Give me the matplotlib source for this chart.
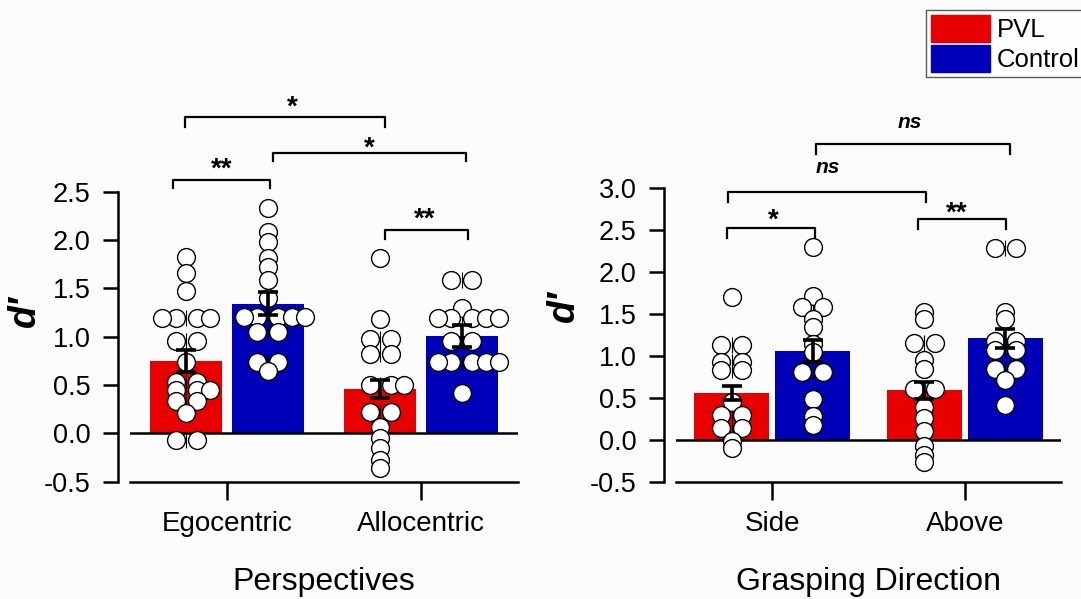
import numpy as np
import matplotlib
matplotlib.use("Agg")
import matplotlib.pyplot as plt
from matplotlib.patches import Patch

plt.rcParams['font.family'] = ['Liberation Sans', 'DejaVu Sans']

RED = '#e80000'
BLUE = '#0000b8'

# ---- Perspectives panel
persp_labels = ['Egocentric', 'Allocentric']
persp_pvl_mean = [0.75, 0.46]
persp_ctrl_mean = [1.34, 1.01]
persp_pvl_sem = [0.11, 0.09]
persp_ctrl_sem = [0.12, 0.115]

ego_pvl = [1.82, 1.66, 1.47, 1.19, 1.19, 1.19, 1.19, 0.96, 0.96, 0.74,
           0.53, 0.53, 0.45, 0.45, 0.45, 0.34, 0.34, 0.21, -0.07, -0.07]
ego_ctrl = [2.33, 2.08, 1.98, 1.81, 1.72, 1.59, 1.40, 1.20, 1.20, 1.20,
            1.20, 1.20, 1.05, 1.05, 0.74, 0.74, 0.65]
allo_pvl = [1.81, 1.18, 0.98, 0.98, 0.82, 0.82, 0.50, 0.50, 0.50, 0.22,
            0.22, 0.07, -0.05, -0.15, -0.28, -0.36]
allo_ctrl = [1.59, 1.59, 1.30, 1.19, 1.19, 1.19, 1.19, 1.19, 0.96, 0.96,
             0.74, 0.74, 0.74, 0.74, 0.74, 0.42]

# ---- Grasping direction panel
dir_labels = ['Side', 'Above']
dir_pvl_mean = [0.56, 0.59]
dir_ctrl_mean = [1.06, 1.21]
dir_pvl_sem = [0.085, 0.10]
dir_ctrl_sem = [0.13, 0.115]

side_pvl = [1.70, 1.13, 1.13, 0.93, 0.93, 0.83, 0.83, 0.45, 0.30, 0.30,
            0.14, 0.14, -0.02, -0.10]
side_ctrl = [2.30, 1.72, 1.58, 1.58, 1.44, 1.34, 1.14, 1.05, 0.81, 0.81,
             0.49, 0.28, 0.18]
above_pvl = [1.52, 1.44, 1.16, 1.16, 0.95, 0.85, 0.61, 0.61, 0.39, 0.26,
             0.10, -0.08, -0.18, -0.27]
above_ctrl = [2.29, 2.29, 1.52, 1.44, 1.18, 1.18, 1.07, 1.07, 0.85, 0.85,
              0.71, 0.41]

# significance brackets: (x1, x2, y, drop, label, text x, text y)
persp_sig = [(-0.216, 0.814, 3.27, 0.10, '*', 0.335, 3.37),
             (0.237, 1.232, 2.90, 0.08, '*', 0.732, 2.95),
             (-0.278, 0.222, 2.62, 0.085, '**', -0.026, 2.73),
             (0.814, 1.242, 2.10, 0.09, '**', 1.02, 2.21)]
dir_sig = [(0.229, 1.236, 3.53, 0.12, 'ns', 0.717, 3.79),
           (-0.229, 0.80, 2.96, 0.12, 'ns', 0.29, 3.25),
           (-0.234, 0.223, 2.53, 0.12, '*', 0.005, 2.62),
           (0.758, 1.216, 2.63, 0.12, '**', 0.96, 2.70)]

LW = 1.8


def swarm(vals, px_per_unit, a=10.5, sp=13.5):
    # identical values spread alternately right/left, unique values stay centred
    tot = {v: vals.count(v) for v in vals}
    seen = {}
    offs = []
    for v in vals:
        if tot[v] == 1:
            offs.append(0.0)
            continue
        k = seen.get(v, 0)
        seen[v] = k + 1
        side = 1 if k % 2 == 0 else -1
        offs.append(side * (a + (k // 2) * sp) / px_per_unit)
    return np.array(offs)


def panel(ax, labels, pvl_mean, ctrl_mean, pvl_sem, ctrl_sem, groups,
          ylim, yticks, xlabel, width, sig):
    x = np.arange(len(labels))
    ax.set_xlim(-0.5, 1.5)
    ax.set_ylim(*ylim)
    ax.bar(x - 0.21, pvl_mean, width, color=RED, zorder=1)
    ax.bar(x + 0.21, ctrl_mean, width, color=BLUE, zorder=1)
    ax.axhline(0, color='k', lw=LW, zorder=2)

    p0 = ax.transData.transform([(0, 0), (1, 0)])
    pxu = p0[1][0] - p0[0][0]
    centers = [x[0] - 0.21, x[0] + 0.21, x[1] - 0.21, x[1] + 0.21]
    for c, vals in zip(centers, groups):
        rows = sorted(set(v for v in vals if vals.count(v) > 1))
        ax.plot([c] * len(rows), rows, ls='none', marker='|', ms=12,
                mew=0.8, color='k', zorder=3, clip_on=False)
        ax.scatter(c + swarm(vals, pxu), vals, s=165, facecolor='white',
                   edgecolor='k', linewidth=1.0, zorder=4, clip_on=False)

    ax.errorbar(x - 0.21, pvl_mean, yerr=pvl_sem, fmt='none', ecolor='k',
                elinewidth=2.6, capsize=7.5, capthick=2.6, zorder=5)
    ax.errorbar(x + 0.21, ctrl_mean, yerr=ctrl_sem, fmt='none', ecolor='k',
                elinewidth=2.6, capsize=7.5, capthick=2.6, zorder=5)

    for x1, x2, y, h, lab, tx, ty in sig:
        ax.plot([x1, x1, x2, x2], [y - h, y, y, y - h], color='k', lw=1.6,
                clip_on=False)
        if lab == 'ns':
            ax.text(tx, ty, lab, ha='center', va='center', fontsize=15,
                    fontweight='bold', style='italic')
        else:
            ax.text(tx, ty, lab, ha='center', va='center', fontsize=20,
                    fontweight='bold')

    for s in ['top', 'right']:
        ax.spines[s].set_visible(False)
    ax.spines['left'].set_position(('outward', 8.6))
    ax.spines['left'].set_linewidth(LW)
    ax.spines['bottom'].set_linewidth(LW)
    ax.set_yticks(yticks)
    ax.set_yticklabels(['%.1f' % t for t in yticks])
    ax.set_xticks(x)
    ax.set_xticklabels(labels)
    ax.tick_params(axis='y', length=10.8, width=LW, labelsize=19.5, pad=9)
    ax.tick_params(axis='x', length=13, width=LW, labelsize=20, pad=8)
    ax.set_xlabel(xlabel, fontsize=23, labelpad=22)
    ax.set_ylabel('d′', fontsize=27, style='italic', fontweight='bold')
    ax.set_facecolor('none')


fig = plt.figure(figsize=(10.81, 5.99), dpi=100, facecolor='#fbfbfb')

ax1 = fig.add_axes([130 / 1081, 117.3 / 599, 388 / 1081, 290 / 599])
panel(ax1, persp_labels, persp_pvl_mean, persp_ctrl_mean, persp_pvl_sem,
      persp_ctrl_sem, [ego_pvl, ego_ctrl, allo_pvl, allo_ctrl],
      (-0.5, 2.5), np.arange(-0.5, 2.51, 0.5), 'Perspectives', 0.37,
      persp_sig)
ax1.yaxis.set_label_coords(-0.225, 0.59)

ax2 = fig.add_axes([676 / 1081, 117.3 / 599, 385 / 1081, 293.4 / 599])
panel(ax2, dir_labels, dir_pvl_mean, dir_ctrl_mean, dir_pvl_sem,
      dir_ctrl_sem, [side_pvl, side_ctrl, above_pvl, above_ctrl],
      (-0.5, 3.0), np.arange(-0.5, 3.01, 0.5), 'Grasping Direction', 0.39,
      dir_sig)
ax2.yaxis.set_label_coords(-0.245, 0.6)

handles = [Patch(facecolor=RED, edgecolor=RED), Patch(facecolor=BLUE, edgecolor=BLUE)]
leg = fig.legend(handles, ['PVL', 'Control'], loc='upper left',
                 bbox_to_anchor=(926 / 1081, 1 - 10 / 599), fontsize=18.5,
                 frameon=True, fancybox=False, handlelength=2.3,
                 handleheight=1.25, labelspacing=0.1, borderpad=0.2,
                 handletextpad=0.25, borderaxespad=0)
leg.get_frame().set_edgecolor('#333333')
leg.get_frame().set_linewidth(1.0)

fig.savefig('out.png', dpi=100, facecolor=fig.get_facecolor())
